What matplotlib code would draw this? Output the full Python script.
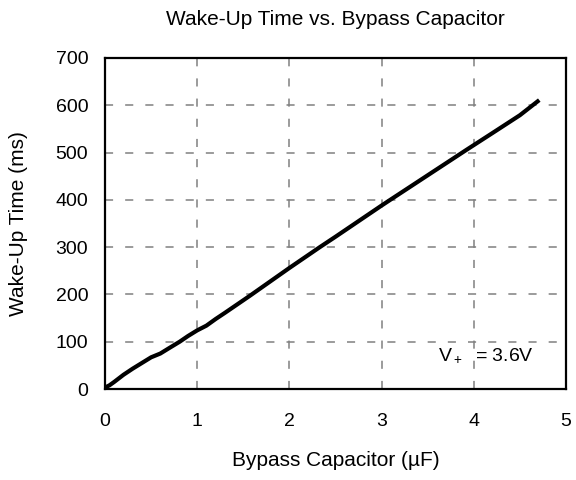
import matplotlib
matplotlib.use("Agg")
import matplotlib.pyplot as plt

plt.rcParams['font.family'] = ['Liberation Sans', 'DejaVu Sans']
plt.rcParams['mathtext.fontset'] = 'custom'
plt.rcParams['mathtext.rm'] = 'Liberation Sans'
plt.rcParams['mathtext.it'] = 'Liberation Sans'

# bypass capacitor (uF) vs wake-up time (ms)
cap = [0.0, 0.05, 0.1, 0.2, 0.3, 0.4, 0.5, 0.6, 0.7, 0.81, 0.9, 1.0, 1.1,
       1.2, 1.3, 1.57, 2.0, 2.33, 2.5, 3.0, 3.07, 3.5, 3.93, 4.2, 4.5, 4.71]
wake = [3, 8, 15, 30, 43, 55, 67, 75, 87, 100, 112, 124, 134,
        148, 161, 197, 256, 300, 322, 388, 397, 452, 507, 541, 579, 611]

fig = plt.figure(figsize=(5.76, 4.8), dpi=100)
# axes box: x 105..566 px, y 58..389 px
ax = fig.add_axes([105/576, 1 - 389/480, 461/576, 331/480])

ax.plot(cap, wake, color='black', lw=3.0, solid_capstyle='butt')

ax.set_xlim(0, 5)
ax.set_ylim(0, 700)
ax.set_xticks(range(0, 6))
ax.set_yticks(range(0, 701, 100))
ax.grid(True, color='#808080', linestyle=(0, (5.3, 7.9)), lw=1.1)
for s in ax.spines.values():
    s.set_linewidth(1.6)
ax.tick_params(labelsize=14, length=0)
ax.tick_params(axis='x', pad=17)
ax.tick_params(axis='y', pad=12)

ax.set_title('Wake-Up Time vs. Bypass Capacitor', fontsize=15,
             y=1 + (58 - 28)/331, va='center')
ax.set_xlabel('Bypass Capacitor (\u00b5F)', fontsize=15, va='center')
ax.xaxis.set_label_coords(0.5, -(460 - 389)/331)
ax.set_ylabel('Wake-Up Time (ms)', fontsize=15, va='center')
ax.yaxis.set_label_coords(-(105 - 19)/461, 0.5)

ax.text(3.61, 72, r'V$_+$  = 3.6V', fontsize=14, ha='left', va='center')

fig.savefig('out.png', dpi=100)
